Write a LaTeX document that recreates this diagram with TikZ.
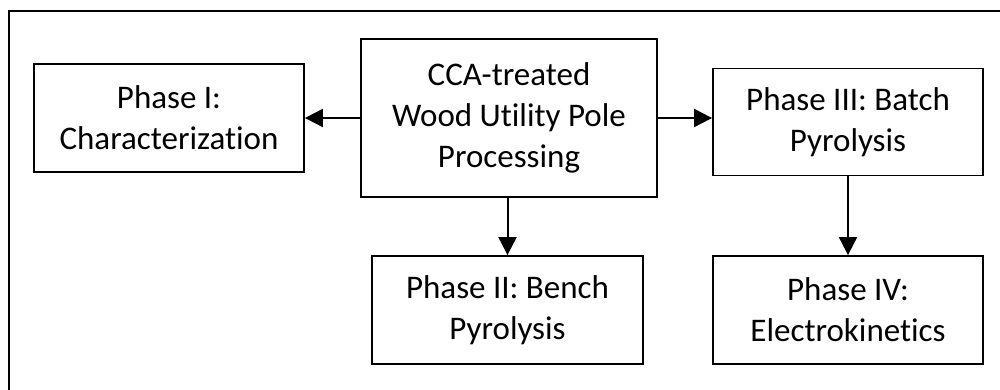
\documentclass[tikz,border=0pt]{standalone}
\usepackage{fontspec}
\setmainfont{Carlito}[Ligatures=NoCommon]
\usetikzlibrary{arrows.meta}
\begin{document}
\begin{tikzpicture}[x=1pt,y=-1pt,
  phasebox/.style={draw=black, line width=1.8pt, minimum width=270pt, minimum height=108pt,
    align=center, inner sep=0pt, font=\fontsize{33}{41}\selectfont},
  flow/.style={line width=2pt, -{Triangle[length=18pt,width=18pt]}}]
  \useasboundingbox (0,0) rectangle (1000,390);
  % outer frame (runs off the page at right and bottom)
  \draw[line width=1.8pt] (9,11) rectangle (1030,420);
  % process boxes
  \node[phasebox, minimum width=296pt, minimum height=158pt] (cca) at (509,118)
    {CCA-treated\\Wood Utility Pole\\Processing};
  \node[phasebox] (p1) at (169,118) {Phase I:\\Characterization};
  \node[phasebox, minimum height=107pt] (p3) at (848,122) {Phase III: Batch\\Pyrolysis};
  \node[phasebox, minimum width=271pt] (p2) at (507.5,310) {Phase II: Bench\\Pyrolysis};
  \node[phasebox] (p4) at (848,310) {Phase IV:\\Electrokinetics};
  % connectors
  \draw[flow] (cca.west) -- (p1.east);
  \draw[flow] (cca.east) -- (cca.east -| p3.west);
  \draw[flow] (cca.south -| p2.north) -- (p2.north);
  \draw[flow] (p3.south) -- (p4.north);
\end{tikzpicture}
\end{document}
